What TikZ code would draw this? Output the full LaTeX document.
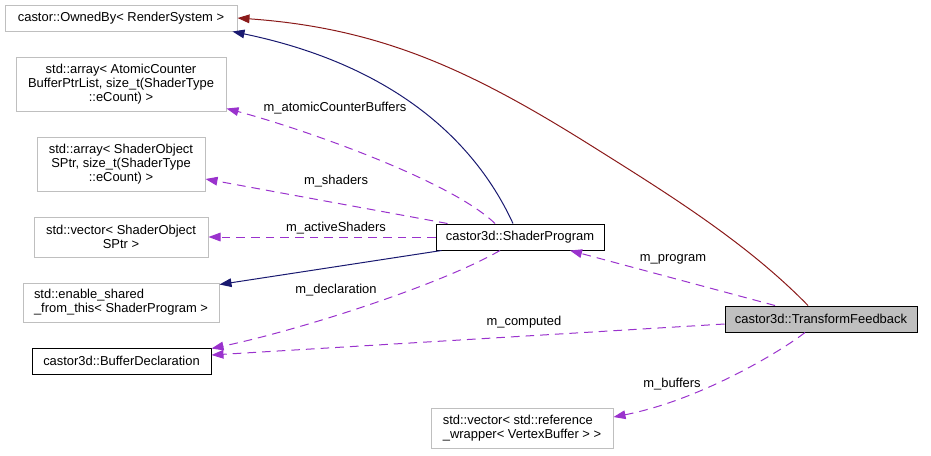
\documentclass[tikz,border=0pt]{standalone}
\usepackage{fontspec}
\setmainfont{Liberation Sans}
\usetikzlibrary{arrows.meta}
\definecolor{pubblue}{HTML}{191970}
\definecolor{privred}{HTML}{8B1A1A}
\definecolor{usepurple}{HTML}{9A32CD}
\definecolor{boxgray}{HTML}{BFBFBF}
\tikzset{
  cls/.style={draw=boxgray, line width=0.75pt, fill=white, inner sep=1pt, align=center,
    font=\fontsize{9.7pt}{10.6pt}\selectfont},
  curcls/.style={cls, draw=black},
  maincls/.style={cls, draw=black, fill=boxgray},
  lbl/.style={inner sep=0pt, font=\fontsize{9.7pt}{10.6pt}\selectfont},
  tip/.style={-{Triangle[length=9pt,width=6.5pt,fill=#1]}},
  pubinh/.style={tip=pubblue, draw=pubblue, line width=0.75pt},
  privinh/.style={tip=privred, draw=privred, line width=0.75pt},
  uses/.style={tip=usepurple, draw=usepurple, line width=0.75pt, dash pattern=on 6.5pt off 4.5pt}
}
\begin{document}
\begin{tikzpicture}[x=0.75pt, y=-0.75pt]
\useasboundingbox (0,0) rectangle (931,455);

\node[cls, minimum width=174pt, minimum height=19.5pt] (owned) at (121,18) {castor::OwnedBy< RenderSystem >};
\node[cls, minimum width=157.5pt, minimum height=40.5pt] (atomic) at (121,84) {std::array< AtomicCounter\\BufferPtrList, size\_t(ShaderType\\::eCount) >};
\node[cls, minimum width=126pt, minimum height=40.5pt] (arrayso) at (121,164) {std::array< ShaderObject\\SPtr, size\_t(ShaderType\\::eCount) >};
\node[cls, minimum width=130.5pt, minimum height=30pt] (vecso) at (121,237) {std::vector< ShaderObject\\SPtr >};
\node[cls, align=left, minimum width=147pt, minimum height=29.25pt] (shared) at (121,302.5) {std::enable\_shared\\\_from\_this< ShaderProgram >};
\node[curcls, minimum width=134.25pt, minimum height=19.5pt] (bufdecl) at (121.5,361) {castor3d::BufferDeclaration};
\node[curcls, minimum width=126pt, minimum height=19.5pt] (prog) at (520,237) {castor3d::ShaderProgram};
\node[maincls, minimum width=144pt, minimum height=19.5pt] (tf) at (821,319) {castor3d::TransformFeedback};
\node[cls, align=left, minimum width=136.5pt, minimum height=30pt] (vecref) at (522,428.5) {std::vector< std::reference\\\_wrapper< VertexBuffer > >};

\draw[privinh] ([xshift=-9.75pt]tf.north) .. controls (745,241) and (665,192) .. (587,143) .. controls (470,70) and (380,28) .. (owned.east);
\draw[pubinh] ([xshift=-5.25pt]prog.north) .. controls (470,130) and (380,62) .. ([xshift=-3.75pt]owned.south east);
\draw[pubinh] ([xshift=4.5pt]prog.south west) -- ([yshift=-1.5pt]shared.north east);

\draw[uses] ([xshift=-18.75pt]prog.north) .. controls (450,180) and (300,128) .. ([yshift=2.25pt]atomic.south east);
\draw[uses] ([xshift=9pt]prog.north west) -- ([yshift=-11.25pt]arrayso.east);
\draw[uses] (prog.west) -- (vecso.east);
\draw[uses] ([xshift=-15pt]prog.south) .. controls (440,285) and (300,330) .. ([yshift=-0.75pt]bufdecl.north east);
\draw[uses] ([xshift=-34.5pt]tf.north) -- ([xshift=37.5pt]prog.south);
\draw[uses] ([yshift=-3.75pt]tf.west) -- ([yshift=4.5pt]bufdecl.east);
\draw[uses] ([xshift=-12pt]tf.south) .. controls (780,352) and (700,400) .. ([yshift=8.6pt]vecref.east);

\node[lbl] (latomic) at (335,108) {m\_atomicCounterBuffers};
\node[lbl] (lshaders) at (336,181) {m\_shaders};
\node[lbl] (lactive) at (336,228) {m\_activeShaders};
\node[lbl] (ldecl) at (336,290) {m\_declaration};
\node[lbl] (lprog) at (673,259) {m\_program};
\node[lbl] (lcomp) at (524,322) {m\_computed};
\node[lbl] (lbuf) at (672,384) {m\_buffers};
\end{tikzpicture}
\end{document}
